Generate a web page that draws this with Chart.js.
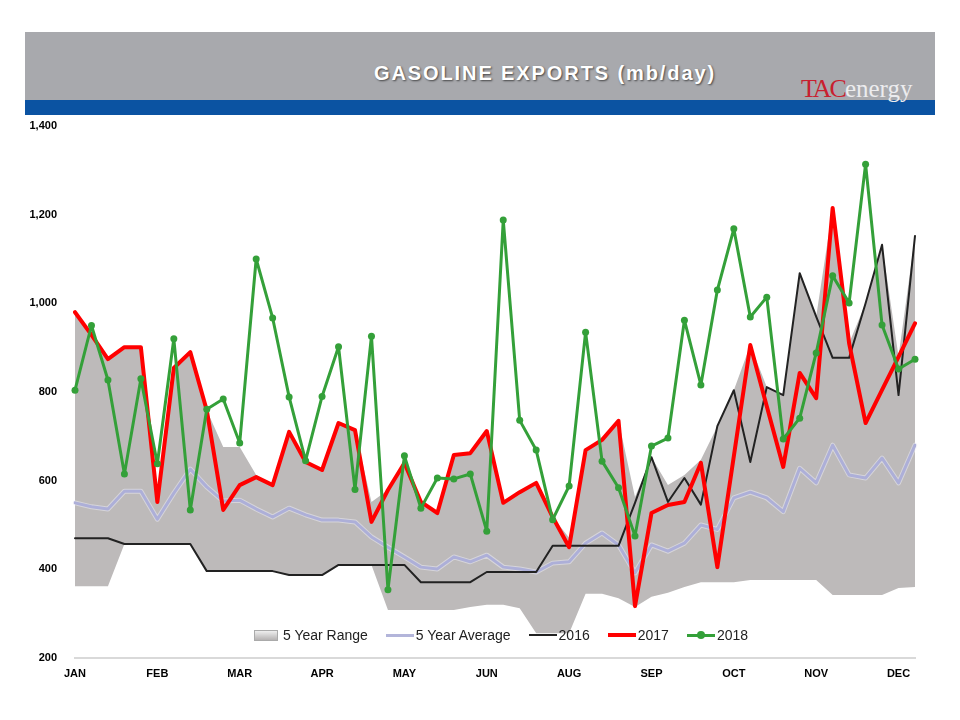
<!DOCTYPE html>
<html>
<head>
<meta charset="utf-8">
<script src="https://cdn.jsdelivr.net/npm/chart.js@4.4.1/dist/chart.umd.min.js"></script>
<style>
  html, body { margin: 0; padding: 0; background: #fff; }
  #wrap { position: relative; width: 960px; height: 720px; overflow: hidden; font-family: Arial, "Liberation Sans", sans-serif; }
  #banner { position: absolute; left: 25px; top: 32px; width: 910px; height: 68px; background: #a8a9ad; }
  #band { position: absolute; left: 25px; top: 100px; width: 910px; height: 15px; background: #0b53a2; }
  #title { position: absolute; left: 25px; width: 1040px; top: 62px; text-align: center; color: #fff; font: bold 20px "Liberation Sans", Arial, sans-serif; letter-spacing: 1.9px; text-shadow: 1px 1px 2px rgba(0,0,0,0.6); }
  #logo { position: absolute; left: 801px; top: 74px; font-family: "Liberation Serif", "DejaVu Serif", serif; white-space: nowrap; }
  #logo .tac { color: #c8202f; font-size: 26px; letter-spacing: -2px; }
  #logo .en { color: #ececee; font-size: 25px; }
  #chart { position: absolute; left: 0; top: 0; }
  #legend { position: absolute; top: 627px; left: 254px; display: flex; align-items: center; font: 14px "Liberation Sans", Arial, sans-serif; color: #222; }
  #legend .item { display: flex; align-items: center; margin-right: 18px; }
  #legend .sw { display: inline-block; margin-right: 2px; }
  #legend .box { width: 22px; height: 9px; background: linear-gradient(#eeeeee, #b5b2b2); border: 1px solid #aaa; margin-right: 5px; }
  #legend .ln { width: 28px; height: 3px; position: relative; }
  #legend .dot { position: absolute; left: 10px; top: -3px; width: 8px; height: 8px; border-radius: 50%; background: #34a039; }
</style>
</head>
<body>
<div id="wrap">
  <div id="banner"></div>
  <div id="band"></div>
  <div id="title">GASOLINE EXPORTS (mb/day)</div>
  <div id="logo"><span class="tac">TAC</span><span class="en">energy</span></div>
  <canvas id="chart" width="960" height="720"></canvas>
  <div id="legend">
    <div class="item"><span class="sw box"></span>5 Year Range</div>
    <div class="item"><span class="sw ln" style="background:#b3b5da"></span>5 Year Average</div>
    <div class="item"><span class="sw ln" style="background:#222;height:2px"></span>2016</div>
    <div class="item"><span class="sw ln" style="background:#ff0000;height:4px"></span>2017</div>
    <div class="item"><span class="sw ln" style="background:#34a039"><span class="dot"></span></span>2018</div>
  </div>
</div>
<script>
// weekly observations, 52 per year
const weeks = Array.from({ length: 52 }, (_, i) => 'W' + (i + 1));
const monthTicks = ['JAN', 'FEB', 'MAR', 'APR', 'MAY', 'JUN', 'AUG', 'SEP', 'OCT', 'NOV', 'DEC'];

const rangeLower = [362, 362, 362, 457, 457, 457, 457, 457, 396, 396, 396, 396, 396, 387, 387, 387, 410, 410, 410, 308,
  308, 308, 308, 308, 315, 320, 320, 312, 256, 256, 256, 345, 345, 335, 315, 338, 347, 360, 371, 371,
  371, 376, 376, 376, 376, 376, 342, 342, 342, 342, 358, 360];
const rangeUpper = [980, 929, 874, 901, 901, 552, 854, 890, 759, 676, 676, 613, 590, 710, 642, 624, 730, 714, 552, 579,
  640, 552, 527, 658, 662, 712, 550, 574, 595, 518, 471, 669, 692, 735, 563, 653, 590, 613, 647, 723,
  804, 906, 811, 793, 1068, 970, 1215, 910, 1000, 1132, 880, 1152];
const avg5 = [550, 541, 536, 576, 576, 513, 572, 626, 586, 554, 556, 536, 518, 538, 523, 511, 511, 507, 473, 450,
  428, 405, 401, 428, 417, 432, 405, 401, 394, 414, 417, 459, 482, 455, 392, 455, 441, 459, 500, 490,
  561, 574, 561, 530, 628, 595, 680, 613, 606, 651, 595, 680];
const y2016 = [470, 470, 470, 457, 457, 457, 457, 457, 396, 396, 396, 396, 396, 387, 387, 387, 410, 410, 410, 410,
  410, 371, 371, 371, 371, 394, 394, 394, 394, 453, 453, 453, 453, 453, 550, 653, 552, 606, 546, 723,
  804, 642, 811, 793, 1068, 970, 877, 877, 1000, 1132, 793, 1152];
const y2017 = [980, 929, 874, 901, 901, 552, 854, 890, 759, 534, 590, 608, 590, 710, 642, 624, 730, 714, 507, 579,
  640, 552, 527, 658, 662, 712, 550, 574, 595, 518, 450, 669, 692, 735, 317, 527, 545, 552, 640, 405,
  655, 906, 768, 631, 843, 786, 1215, 910, 730, 805, 879, 955];
const y2018 = [804, 950, 827, 615, 830, 638, 920, 534, 761, 784, 685, 1100, 967, 789, 645, 790, 902, 580, 926, 354,
  656, 538, 606, 604, 615, 486, 1188, 736, 669, 512, 588, 935, 644, 584, 475, 678, 696, 962, 816, 1030,
  1168, 969, 1014, 694, 741, 888, 1062, 1001, 1314, 951, 852, 874];

const tickFont = { family: 'Arial, "Liberation Sans", sans-serif', weight: 'bold', size: 11 };

new Chart(document.getElementById('chart'), {
    type: 'line',
    data: {
        labels: weeks,
        datasets: [
            { label: 'lower', data: rangeLower, borderWidth: 0, pointRadius: 0, fill: false, order: 7 },
            { label: '5 Year Range', data: rangeUpper, borderWidth: 0, pointRadius: 0, fill: '-1', backgroundColor: '#bdbaba', order: 6 },
            // soft light halo under the average line, as in the original
            { label: 'halo', data: avg5, borderColor: 'rgba(240,240,250,0.5)', borderWidth: 5, pointRadius: 0, order: 5 },
            { label: '5 Year Average', data: avg5, borderColor: '#adafd8', borderWidth: 3, pointRadius: 0, order: 4 },
            { label: '2016', data: y2016, borderColor: '#222222', borderWidth: 2, pointRadius: 0, order: 3 },
            { label: '2017', data: y2017, borderColor: '#ff0000', borderWidth: 4, pointRadius: 0, order: 2 },
            { label: '2018', data: y2018, borderColor: '#34a039', backgroundColor: '#34a039', borderWidth: 3, pointRadius: 3.5, pointBorderWidth: 0, order: 1 }
        ]
    },
    options: {
        responsive: false,
        animation: false,
        layout: { padding: { top: 126, right: 45, left: 0, bottom: 0 } },
        elements: { line: { tension: 0, borderJoinStyle: 'round', borderCapStyle: 'round' } },
        plugins: { legend: { display: false }, tooltip: { enabled: false } },
        scales: {
            x: {
                grid: { display: false, drawTicks: false },
                border: { display: true, color: '#d9d9d9', width: 2 },
                ticks: {
                    autoSkip: false, maxRotation: 0, padding: 9, color: '#000', font: tickFont,
                    callback: (v, i) => (i % 5 === 0 ? monthTicks[i / 5] : '')
                },
                afterFit: (s) => { s.height = 62; }
            },
            y: {
                min: 200, max: 1400,
                grid: { display: false, drawTicks: false },
                border: { display: false },
                ticks: { stepSize: 200, padding: 18, color: '#000', font: tickFont, callback: (v) => v.toLocaleString('en-US') },
                afterFit: (s) => { s.width = 75; }
            }
        }
    }
});
</script>
</body>
</html>
